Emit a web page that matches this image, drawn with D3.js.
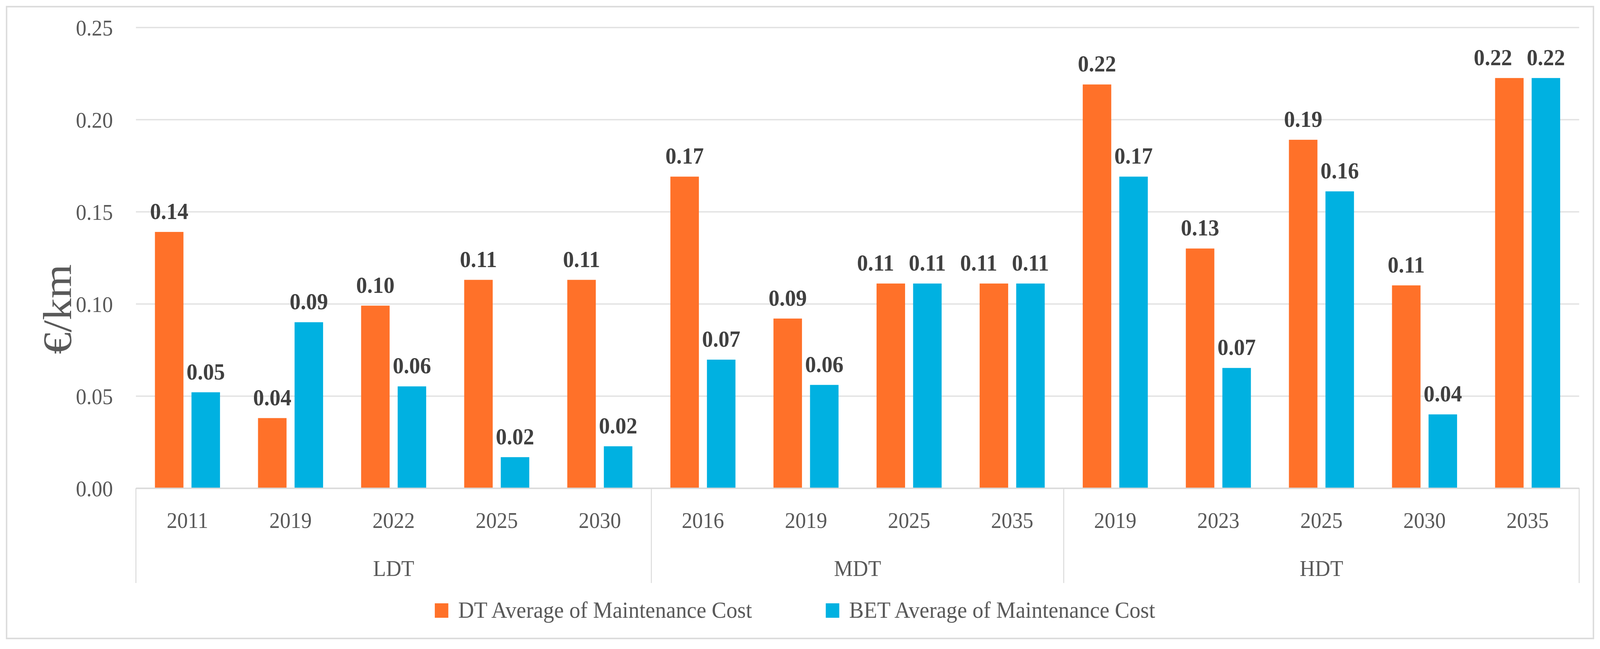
<!DOCTYPE html>
<html>
<head>
<meta charset="utf-8">
<script src="https://cdn.jsdelivr.net/npm/d3@7"></script>
<style>
  html, body { margin: 0; padding: 0; background: #fff; overflow: hidden; }
  #chart svg { display: block; width: 100vw; height: 100vh; }
  svg text { font-family: "Palatino Linotype", "Book Antiqua", Palatino, "Liberation Serif", serif; }
</style>
</head>
<body>
<div id="chart"></div>
<script>
// ------------------------------------------------------------------
// Data
// ------------------------------------------------------------------
var groups = ["LDT", "MDT", "HDT"];
var years = ["2011", "2019", "2022", "2025", "2030",
             "2016", "2019", "2025", "2035",
             "2019", "2023", "2025", "2030", "2035"];
var yearGroup = [0, 0, 0, 0, 0, 1, 1, 1, 1, 2, 2, 2, 2, 2];
var dtValues = [0.139, 0.038, 0.099, 0.113, 0.113,
                0.169, 0.092, 0.111, 0.111,
                0.219, 0.130, 0.189, 0.110, 0.2225];
var betValues = [0.052, 0.09, 0.0552, 0.0168, 0.0227,
                 0.0697, 0.056, 0.111, 0.111,
                 0.169, 0.0652, 0.161, 0.040, 0.2225];
var seriesNames = ["DT Average of Maintenance Cost", "BET Average of Maintenance Cost"];
var yTicks = [0, 0.05, 0.10, 0.15, 0.20, 0.25];

var chartW = 4379, chartH = 1662;
var plotLeft = 372, plotRight = 4322, plotTop = 70, plotBottom = 1250;
var colors = ["#FF7129", "#00B1E1"];
var fmt = d3.format(".2f");
var fontStack = "'Palatino Linotype', 'Book Antiqua', Palatino, 'Liberation Serif', serif";

// the drawing is laid out in a 4379 x 1662 box and stretched over the window
var svg = d3.select("#chart").append("svg")
    .attr("viewBox", "0 0 " + chartW + " " + chartH)
    .attr("preserveAspectRatio", "none");

svg.append("rect").attr("width", chartW).attr("height", chartH).attr("fill", "#fff");

// outer frame
svg.append("rect")
    .attr("x", 18).attr("y", 17)
    .attr("width", 4343).attr("height", 1618)
    .attr("fill", "none").attr("stroke", "#dcdcdc").attr("stroke-width", 4);

// ------------------------------------------------------------------
// Scales
// ------------------------------------------------------------------
var x0 = d3.scaleBand().domain(d3.range(years.length)).range([plotLeft, plotRight]).padding(0);
var x1 = d3.scaleBand().domain([0, 1]).range([0, x0.bandwidth()])
    .paddingInner(0.22).paddingOuter(0.52);
var y = d3.scaleLinear().domain([0, 0.25]).range([plotBottom, plotTop]);

// y axis with gridlines
var yAxis = svg.append("g")
    .attr("transform", "translate(" + plotLeft + ",0)")
    .call(d3.axisLeft(y).tickValues(yTicks).tickFormat(fmt)
        .tickSize(-(plotRight - plotLeft)).tickPadding(63));
yAxis.select(".domain").remove();
yAxis.selectAll(".tick line").attr("stroke", "#e2e2e2").attr("stroke-width", 3.5);
yAxis.selectAll(".tick text")
    .attr("font-size", 58).attr("fill", "#595959").attr("dy", "0.36em")
    .style("font-family", fontStack);

// y title
svg.append("text")
    .attr("transform", "translate(195,792) rotate(-90)")
    .attr("text-anchor", "middle")
    .attr("font-size", 112).attr("fill", "#595959")
    .text("€/km");

// ------------------------------------------------------------------
// Bars
// ------------------------------------------------------------------
var rows = years.map(function(yr, i) {
    return { i: i, vals: [dtValues[i], betValues[i]] };
});

var cat = svg.selectAll(".cat").data(rows).enter().append("g")
    .attr("class", "cat")
    .attr("transform", function(d) { return "translate(" + x0(d.i) + ",0)"; });

cat.selectAll("rect")
    .data(function(d) { return d.vals.map(function(v, s) { return { s: s, v: v }; }); })
    .enter().append("rect")
    .attr("x", function(d) { return x1(d.s); })
    .attr("y", function(d) { return y(d.v); })
    .attr("width", x1.bandwidth())
    .attr("height", function(d) { return y(0) - y(d.v); })
    .attr("fill", function(d) { return colors[d.s]; });

cat.selectAll(".val")
    .data(function(d) { return d.vals.map(function(v, s) { return { s: s, v: v }; }); })
    .enter().append("text")
    .attr("class", "val")
    .attr("x", function(d) { return x1(d.s) + x1.bandwidth() / 2; })
    .attr("y", function(d) { return y(d.v) - 33; })
    .attr("text-anchor", "middle")
    .attr("font-size", 60).attr("font-weight", "bold").attr("fill", "#404040")
    .text(function(d) { return fmt(d.v); });

// push the DT label left when it would run into the BET label at the same height
cat.each(function(d) {
    var labels = d3.select(this).selectAll(".val").nodes();
    var a = labels[0], b = labels[1];
    var ya = +a.getAttribute("y"), yb = +b.getAttribute("y");
    if (Math.abs(ya - yb) > 45) return;
    var wa = a.getComputedTextLength(), wb = b.getComputedTextLength();
    var xa = +a.getAttribute("x"), xb = +b.getAttribute("x");
    var overlap = (xa + wa / 2) - (xb - wb / 2) + 40;
    if (overlap > 0) a.setAttribute("x", xa - overlap);
});

// ------------------------------------------------------------------
// Category axis (years + groups)
// ------------------------------------------------------------------
var xAxis = svg.append("g")
    .attr("transform", "translate(0," + plotBottom + ")")
    .call(d3.axisBottom(x0).tickSize(0).tickPadding(61)
        .tickFormat(function(i) { return years[i]; }));
xAxis.select(".domain").attr("stroke", "#d9d9d9").attr("stroke-width", 3.5);
xAxis.selectAll(".tick text")
    .attr("font-size", 58).attr("fill", "#595959")
    .style("font-family", fontStack);

// group separators
var groupStart = groups.map(function(g, k) { return yearGroup.indexOf(k); });
var groupEnd = groups.map(function(g, k) { return yearGroup.lastIndexOf(k); });
var sepX = groupStart.map(function(i) { return x0(i); }).concat([plotRight]);

svg.selectAll(".sep").data(sepX).enter().append("line")
    .attr("class", "sep")
    .attr("x1", function(d) { return d; }).attr("x2", function(d) { return d; })
    .attr("y1", plotBottom).attr("y2", 1493)
    .attr("stroke", "#d9d9d9").attr("stroke-width", 2.5);

svg.selectAll(".grp").data(groups).enter().append("text")
    .attr("class", "grp")
    .attr("x", function(g, k) { return (x0(groupStart[k]) + x0(groupEnd[k]) + x0.bandwidth()) / 2; })
    .attr("y", 1475)
    .attr("text-anchor", "middle")
    .attr("font-size", 58).attr("fill", "#595959")
    .text(function(g) { return g; });

// ------------------------------------------------------------------
// Legend
// ------------------------------------------------------------------
var legendX = [1190, 2260];
var leg = svg.selectAll(".leg").data(seriesNames).enter().append("g")
    .attr("class", "leg")
    .attr("transform", function(d, i) { return "translate(" + legendX[i] + ",1545)"; });
leg.append("rect")
    .attr("width", 37).attr("height", 37)
    .attr("fill", function(d, i) { return colors[i]; });
leg.append("text")
    .attr("x", 64).attr("y", 37)
    .attr("font-size", 60).attr("fill", "#595959")
    .text(function(d) { return d; });
</script>
</body>
</html>
